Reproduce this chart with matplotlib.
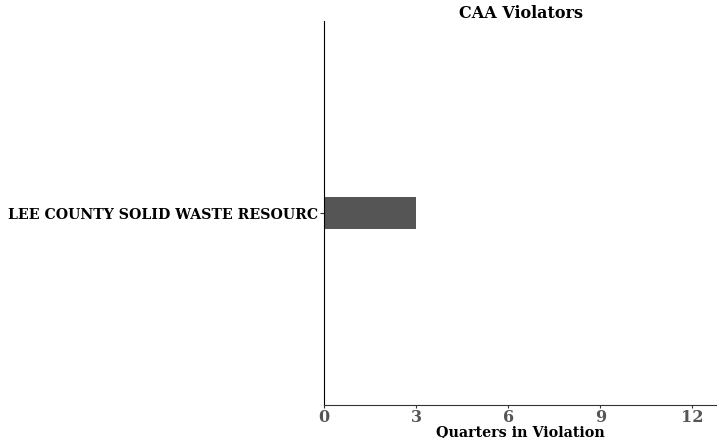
import matplotlib
matplotlib.use("Agg")
import matplotlib.pyplot as plt

# data
facilities = ["LEE COUNTY SOLID WASTE RESOURC"]
quarters = [3]
xticks = [0, 3, 6, 9, 12]

plt.rcParams['font.family'] = ['DejaVu Serif']

fig = plt.figure(figsize=(7.17, 4.39), dpi=100)
ax = fig.add_axes([0.4519, 0.0752, 0.5481, 0.8747])

ax.barh(facilities, quarters, height=0.1, color='#555555')
ax.set_ylim(-0.6, 0.6)
ax.set_xlim(0, 12.8)

ax.set_xticks(xticks)
ax.set_xticklabels([str(t) for t in xticks], fontsize=11.5, fontweight='bold', color='#555555')
ax.tick_params(axis='x', length=2.5, pad=0, color='#333333')
ax.tick_params(axis='y', length=3, pad=1, color='#333333')
for lab in ax.get_yticklabels():
    lab.set_fontsize(10.2)
    lab.set_fontweight('bold')
    lab.set_color('black')

ax.set_xlabel("Quarters in Violation", fontsize=10.3, fontweight='bold', labelpad=-1)
ax.set_title("CAA Violators", fontsize=11.5, fontweight='bold', pad=0)

ax.spines['top'].set_visible(False)
ax.spines['right'].set_visible(False)
ax.spines['left'].set_color('black')
ax.spines['bottom'].set_color('#333333')

fig.savefig("out.png", dpi=100)
